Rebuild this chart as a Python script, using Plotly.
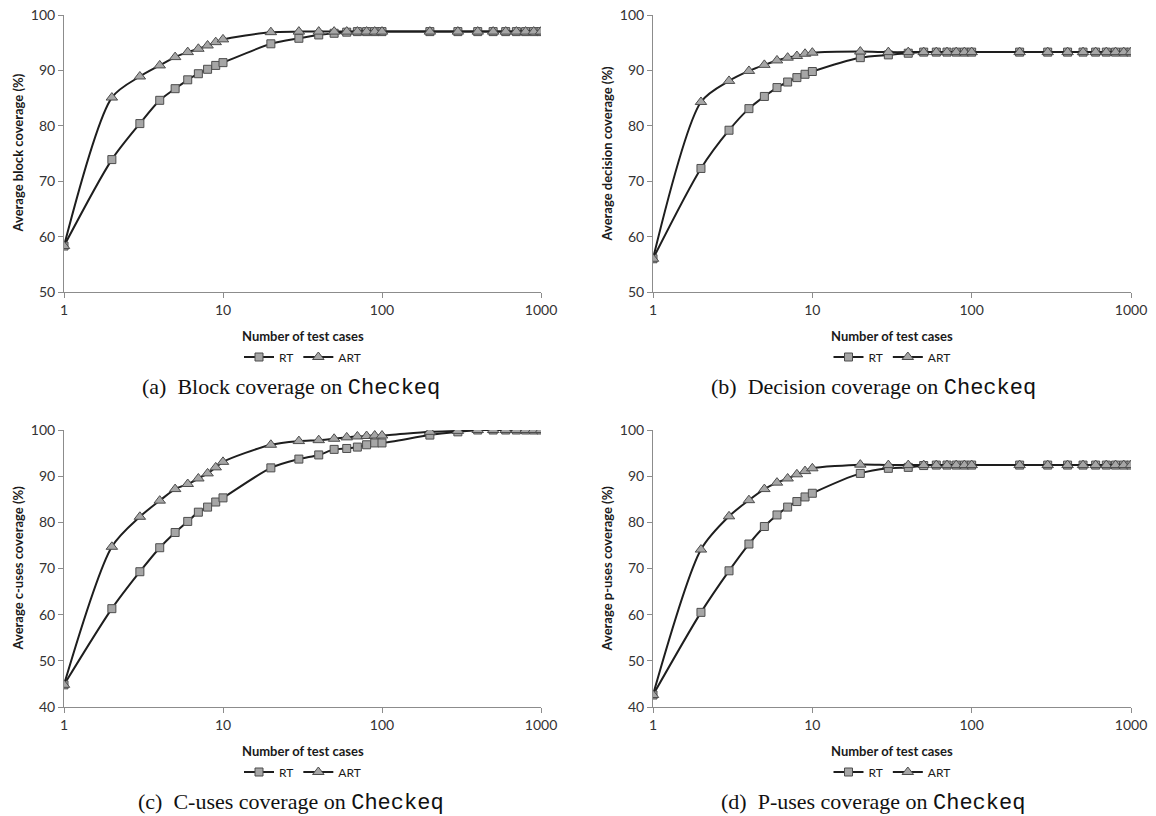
import plotly.graph_objects as go

# ---------------- data ----------------
test_cases = [1, 2, 3, 4, 5, 6, 7, 8, 9, 10,
              20, 30, 40, 50, 60, 70, 80, 90, 100,
              200, 300, 400, 500, 600, 700, 800, 900, 1000]

block_rt = [58.3, 73.9, 80.4, 84.6, 86.7, 88.3, 89.4, 90.2, 90.9, 91.4,
            94.8, 95.8, 96.4, 96.7, 96.9, 97.0, 97.0, 97.0, 97.0,
            97.0, 97.0, 97.0, 97.0, 97.0, 97.0, 97.0, 97.0, 97.0]
block_art = [58.3, 85.1, 88.9, 90.9, 92.4, 93.3, 93.9, 94.5, 95.1, 95.6,
             96.9, 97.0, 97.0, 97.0, 97.0, 97.0, 97.0, 97.0, 97.0,
             97.0, 97.0, 97.0, 97.0, 97.0, 97.0, 97.0, 97.0, 97.0]

decision_rt = [56.0, 72.3, 79.2, 83.1, 85.3, 86.9, 87.9, 88.7, 89.3, 89.8,
               92.3, 92.8, 93.1, 93.3, 93.3, 93.3, 93.3, 93.3, 93.3,
               93.3, 93.3, 93.3, 93.3, 93.3, 93.3, 93.3, 93.3, 93.3]
decision_art = [56.0, 84.3, 88.1, 89.9, 91.0, 91.8, 92.3, 92.6, 93.0, 93.2,
                93.4, 93.3, 93.3, 93.3, 93.3, 93.3, 93.3, 93.3, 93.3,
                93.3, 93.3, 93.3, 93.3, 93.3, 93.3, 93.3, 93.3, 93.3]

cuses_rt = [44.8, 61.3, 69.3, 74.5, 77.8, 80.2, 82.2, 83.3, 84.4, 85.3,
            91.8, 93.7, 94.6, 95.8, 96.0, 96.3, 96.8, 97.2, 97.2,
            98.9, 99.6, 100.0, 100.0, 100.0, 100.0, 100.0, 100.0, 100.0]
cuses_art = [44.8, 74.7, 81.2, 84.7, 87.2, 88.3, 89.5, 90.6, 91.9, 93.1,
             96.8, 97.6, 97.8, 98.1, 98.4, 98.6, 98.7, 98.8, 98.8,
             99.6, 99.8, 100.0, 100.0, 100.0, 100.0, 100.0, 100.0, 100.0]

puses_rt = [42.6, 60.5, 69.5, 75.3, 79.1, 81.6, 83.3, 84.5, 85.5, 86.3,
            90.6, 91.7, 91.9, 92.3, 92.4, 92.4, 92.4, 92.4, 92.4,
            92.4, 92.4, 92.4, 92.4, 92.4, 92.4, 92.4, 92.4, 92.4]
puses_art = [42.6, 74.1, 81.3, 84.8, 87.2, 88.6, 89.5, 90.4, 91.1, 91.7,
             92.5, 92.4, 92.4, 92.4, 92.4, 92.4, 92.4, 92.4, 92.4,
             92.4, 92.4, 92.4, 92.4, 92.4, 92.4, 92.4, 92.4, 92.4]

y_titles = ["Average block coverage (%)", "Average decision coverage (%)",
            "Average c-uses coverage (%)", "Average p-uses coverage (%)"]
captions = [("(a)", "Block coverage on"), ("(b)", "Decision coverage on"),
            ("(c)", "C-uses coverage on"), ("(d)", "P-uses coverage on")]
program_name = "Checkeq"
x_title = "Number of test cases"
series_names = ["RT", "ART"]
y_ranges = [(50, 100), (50, 100), (40, 100), (40, 100)]

panels = [(block_rt, block_art), (decision_rt, decision_art),
          (cuses_rt, cuses_art), (puses_rt, puses_art)]

# ---------------- layout geometry ----------------
W, H = 1156, 816
def px(x):
    return x / W
def py(y):
    return 1 - y / H

# pixel boxes on screen: (left, right, top, bottom)
boxes = [(64, 541, 15, 292), (653, 1131, 15, 292),
         (64, 541, 430, 707), (653, 1131, 430, 707)]
caption_cx = [291, 873, 291, 873]

LINE = "#1e1e1e"
FILL = "#a6a6a6"
EDGE = "#4d4d4d"
AXIS = "#8c8c8c"
SANS = "Lato, 'Open Sans', sans-serif"
TICKFONT = dict(family=SANS, size=14, color="#333333")

fig = go.Figure()
layout = dict(width=W, height=H,
              margin=dict(l=0, r=0, t=0, b=0, pad=0, autoexpand=False),
              paper_bgcolor="white", plot_bgcolor="white", annotations=[])

for i, ((rt, art), box) in enumerate(zip(panels, boxes)):
    n = i + 1
    xa = "x" if n == 1 else f"x{n}"
    ya = "y" if n == 1 else f"y{n}"
    lg = "legend" if n == 1 else f"legend{n}"
    for vals, name, sym, size in [(rt, series_names[0], "square", 8),
                                  (art, series_names[1], "triangle-up", 10)]:
        fig.add_trace(go.Scatter(
            x=test_cases, y=vals, name=name, mode="lines+markers",
            xaxis=xa, yaxis=ya, legend=lg,
            line=dict(color=LINE, width=2, shape="spline", smoothing=0.8),
            marker=dict(symbol=sym, size=size, color=FILL,
                        line=dict(color=EDGE, width=1)),
        ))
    l, r, t, b = box
    xkey = "xaxis" if n == 1 else f"xaxis{n}"
    ykey = "yaxis" if n == 1 else f"yaxis{n}"
    layout[xkey] = dict(
        domain=[px(l), px(r)], anchor=ya, type="log", range=[0, 3],
        tickvals=[1, 10, 100, 1000], ticktext=["1", "10", "100", "1000"],
        ticks="outside", ticklen=5, tickcolor=AXIS, showline=True,
        linecolor=AXIS, linewidth=1, showgrid=False, zeroline=False,
        tickfont=TICKFONT, automargin=False,
    )
    y0, y1 = y_ranges[i]
    layout[ykey] = dict(
        domain=[py(b), py(t)], anchor=xa, range=[y0, y1], dtick=10,
        ticks="outside", ticklen=5, tickcolor=AXIS, showline=True,
        linecolor=AXIS, linewidth=1, showgrid=False, zeroline=False,
        tickfont=TICKFONT, automargin=False,
    )
    cx = (l + r) / 2
    # y-axis title
    layout["annotations"].append(dict(
        x=px(l - 47), y=py((t + b) / 2), xref="paper", yref="paper",
        text=f"<b>{y_titles[i]}</b>", textangle=-90, showarrow=False,
        font=dict(family=SANS, size=13, color="#1a1a1a"),
        xanchor="center", yanchor="middle"))
    # x-axis title
    layout["annotations"].append(dict(
        x=px(cx), y=py(b + 44), xref="paper", yref="paper",
        text=f"<b>{x_title}</b>", showarrow=False,
        font=dict(family=SANS, size=13, color="#1a1a1a"),
        xanchor="center", yanchor="middle"))
    # caption
    lab, desc = captions[i]
    layout["annotations"].append(dict(
        x=px(caption_cx[i]), y=py(b + 95), xref="paper", yref="paper",
        text=f"{lab}&nbsp;&nbsp;{desc} <span style=\"font-family:'Liberation Mono', 'DejaVu Sans Mono', monospace\">{program_name}</span>",
        showarrow=False,
        font=dict(family="'Liberation Serif', 'DejaVu Serif', serif", size=22, color="#111111"),
        xanchor="center", yanchor="middle"))
    # legend
    layout[lg] = dict(
        orientation="h", x=px(cx), y=py(b + 65), xanchor="center", yanchor="middle",
        font=dict(family=SANS, size=12, color="#1a1a1a"),
        bgcolor="rgba(0,0,0,0)", itemwidth=30, tracegroupgap=0,
        itemclick=False, itemdoubleclick=False,
    )

fig.update_layout(**layout)
fig.write_html("out.html",
               config={"displayModeBar": False},
               post_script="document.body.style.margin='0px';document.body.style.overflow='hidden';")
